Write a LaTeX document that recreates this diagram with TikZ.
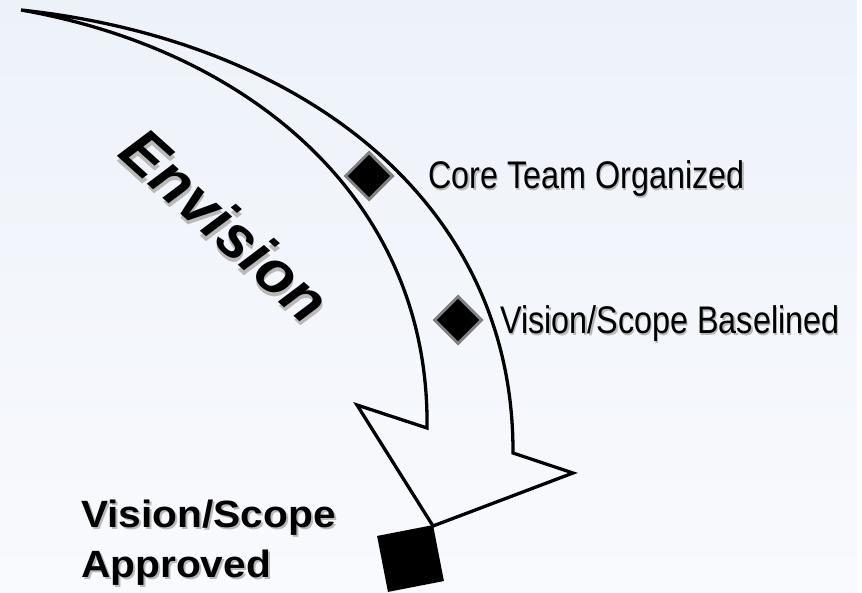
\documentclass[tikz,border=0pt]{standalone}
\usepackage{fontspec}
\setmainfont{Liberation Sans}
\newfontfamily\hepfont[FakeStretch=0.84]{Liberation Sans}
\newfontfamily\rongfont[FakeStretch=1.07]{Liberation Sans}
\usetikzlibrary{shapes.geometric}

\definecolor{nentren}{RGB}{237,242,249}
\definecolor{nenduoi}{RGB}{249,250,253}
\newcommand{\bongchu}[2][2pt]{\leavevmode\rlap{\kern#1\raisebox{-#1}{\textcolor{gray!55}{#2}}}#2}

\begin{document}
\begin{tikzpicture}[x=1pt, y=-1pt,
  muiten/.style={draw=black, line width=3.3pt, line join=miter},
  mocthoi/.style={diamond, draw=gray, line width=3pt, fill=black, minimum size=48pt, inner sep=0pt},
  mocvuong/.style={rectangle, fill=black, minimum size=57pt, inner sep=0pt, rotate=11},
  nhan/.style={inner sep=0pt, anchor=base west, font=\hepfont\fontsize{38.5}{40}\selectfont},
  nhanlon/.style={inner sep=0pt, anchor=base west, font=\rongfont\bfseries\fontsize{38}{40}\selectfont},
  giaidoan/.style={inner sep=0pt, anchor=base, rotate=-42, font=\bfseries\itshape\fontsize{61}{61}\selectfont}]
\useasboundingbox (0,0) rectangle (862,593);

% Nen chuyen mau
\shade[top color=nentren, bottom color=nenduoi] (0,0) rectangle (857,593);
\fill[white] (857,0) rectangle (862,593);

% Mui ten cong
\draw[muiten] (21,10) .. controls (300,40) and (514,200) .. (513,453)
  -- (573,473) -- (433,526) -- (357,405) -- (427,428)
  .. controls (430,200) and (250,50) .. (21,10) -- cycle;

% Ten giai doan
\node[giaidoan] (envision) at (211,241) {\bongchu[3pt]{Envision}};

% Cac moc trung gian
\node[mocthoi] (m1) at (369,176) {};
\node[mocthoi] (m2) at (458,320) {};
\node[nhan] (t1) at (428,189) {\bongchu[1.5pt]{Core Team Organized}};
\node[nhan] (t2) at (500,334) {\bongchu[1.5pt]{Vision/Scope Baselined}};

% Moc chinh
\node[mocvuong] (m3) at (410.5,558.5) {};
\node[nhanlon] (t3) at (81,527) {\bongchu{Vision/Scope}};
\node[nhanlon] (t4) at (81,577) {\bongchu{Approved}};
\end{tikzpicture}
\end{document}
